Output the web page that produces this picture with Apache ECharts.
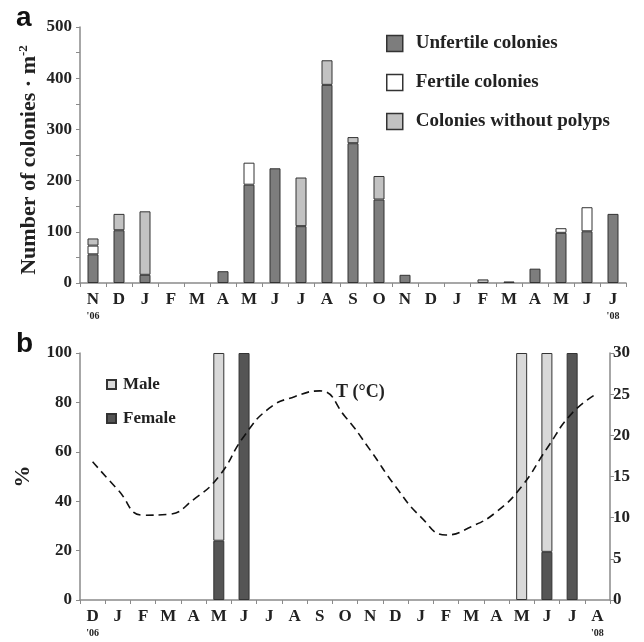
<!DOCTYPE html>
<html>
<head>
<meta charset="utf-8">
<script src="https://cdn.jsdelivr.net/npm/echarts@6/dist/echarts.min.js"></script>
<style>
  html, body { margin: 0; padding: 0; background: #fff; }
  #chart { width: 644px; height: 642px; }
</style>
</head>
<body>
<div id="chart"></div>
<script>
// panel a: colonies per month, Nov '06 - Jul '08
const topMonths = ['N', 'D', 'J', 'F', 'M', 'A', 'M', 'J', 'J', 'A', 'S', 'O', 'N', 'D', 'J', 'F', 'M', 'A', 'M', 'J', 'J'];
const unfertile = [56, 103, 16, null, null, 23, 192, 224, 111, 387, 273, 163, 16, null, null, null, 3, 28, 98, 101, 135];
const fertile = [17, null, null, null, null, null, 43, null, null, null, null, null, null, null, null, null, null, null, 9, 47, null];
const withoutPolyps = [14, 32, 124, null, null, null, null, null, 95, 48, 12, 46, null, null, null, 7, null, null, null, null, null];

// panel b: sex ratio and temperature, Dec '06 - Aug '08
const bottomMonths = ['D', 'J', 'F', 'M', 'A', 'M', 'J', 'J', 'A', 'S', 'O', 'N', 'D', 'J', 'F', 'M', 'A', 'M', 'J', 'J', 'A'];
const female = [null, null, null, null, null, 24, 100, null, null, null, null, null, null, null, null, null, null, null, 19.5, 100, null];
const male = [null, null, null, null, null, 76, null, null, null, null, null, null, null, null, null, null, null, 100, 80.5, null, null];
const temperature = [16.8, 13.4, 10.3, 10.4, 12.2, 15.0, 19.9, 23.3, 24.7, 25.4, 22.3, 18.2, 13.8, 10.1, 7.9, 8.9, 10.7, 13.8, 18.4, 22.7, 25.1];

const serif = 'Liberation Serif';
const axisGray = '#8a8a8a';
const border = '#333';

const yearLabel = (first, last) => (value, index) => {
  if (index === 0) return value + '\n{yr|' + first + '}';
  if (index === 20) return value + '\n{yr|' + last + '}';
  return value;
};

const catLabel = (first, last) => ({
  interval: 0,
  color: '#222',
  fontFamily: serif,
  fontWeight: 'bold',
  fontSize: 17,
  margin: 8,
  lineHeight: 18,
  formatter: yearLabel(first, last),
  rich: { yr: { fontSize: 10, fontFamily: serif, fontWeight: 'bold', color: '#222', lineHeight: 14, padding: [1, 0, 0, 0] } }
});

const valLabel = {
  color: '#222',
  fontFamily: serif,
  fontWeight: 'bold',
  fontSize: 17
};

const chart = echarts.init(document.getElementById('chart'));

const option = {
  backgroundColor: '#fff',
  animation: false,
  graphic: [
    { type: 'text', left: 16, top: 4, style: { text: 'a', font: 'bold 28px "Liberation Sans"', fill: '#111' } },
    { type: 'text', left: 16, top: 330, style: { text: 'b', font: 'bold 28px "Liberation Sans"', fill: '#111' } },
    { type: 'text', left: 336, top: 383, style: { text: 'T (°C)', font: 'bold 18px "Liberation Serif"', fill: '#222' } },
    {
      type: 'text',
      x: 29,
      y: 160,
      rotation: Math.PI / 2,
      style: {
        text: 'Number of colonies · m{sup|-2}',
        fontFamily: serif,
        fontWeight: 'bold',
        fontSize: 22,
        fill: '#222',
        align: 'center',
        verticalAlign: 'middle',
        rich: { sup: { fontFamily: serif, fontWeight: 'bold', fontSize: 13, fill: '#222', verticalAlign: 'top', padding: [0, 0, 10, 0] } }
      }
    }
  ],
  legend: [
    {
      orient: 'vertical',
      left: 381,
      top: 29,
      itemWidth: 16,
      itemHeight: 16,
      itemGap: 20,
      icon: 'rect',
      data: ['Unfertile colonies', 'Fertile colonies', 'Colonies without polyps'],
      itemStyle: { borderWidth: 1.5 },
      textStyle: { fontFamily: serif, fontWeight: 'bold', fontSize: 19, color: '#222', padding: [0, 0, 0, 8] }
    },
    {
      orient: 'vertical',
      left: 101,
      top: 371,
      itemWidth: 9,
      itemHeight: 9,
      itemGap: 17,
      icon: 'rect',
      data: ['Male', 'Female'],
      textStyle: { fontFamily: serif, fontWeight: 'bold', fontSize: 17, color: '#222', padding: [0, 0, 0, 2] }
    }
  ],
  grid: [
    { left: 80, top: 27, width: 546, height: 256 },
    { left: 80, top: 353, width: 530, height: 247 }
  ],
  xAxis: [
    {
      type: 'category',
      gridIndex: 0,
      data: topMonths,
      axisLine: { lineStyle: { color: axisGray, width: 1.5 } },
      axisTick: { show: true, length: 4, lineStyle: { color: axisGray } },
      axisLabel: catLabel("'06", "'08")
    },
    {
      type: 'category',
      gridIndex: 1,
      data: bottomMonths,
      axisLine: { lineStyle: { color: axisGray, width: 1.5 } },
      axisTick: { show: true, length: 4, lineStyle: { color: axisGray } },
      axisLabel: catLabel("'06", "'08")
    }
  ],
  yAxis: [
    {
      type: 'value',
      gridIndex: 0,
      min: 0,
      max: 500,
      interval: 100,
      axisLine: { show: true, lineStyle: { color: axisGray, width: 1.5 } },
      axisTick: { show: true, length: 4, lineStyle: { color: axisGray } },
      minorTick: { show: true, splitNumber: 2, length: 4, lineStyle: { color: axisGray } },
      splitLine: { show: false },
      axisLabel: valLabel
    },
    {
      type: 'value',
      gridIndex: 1,
      min: 0,
      max: 100,
      interval: 20,
      name: '%',
      nameLocation: 'middle',
      nameGap: 46,
      nameTextStyle: { fontFamily: serif, fontWeight: 'bold', fontSize: 22, color: '#222' },
      axisLine: { show: true, lineStyle: { color: axisGray, width: 1.5 } },
      axisTick: { show: true, length: 4, lineStyle: { color: axisGray } },
      splitLine: { show: false },
      axisLabel: valLabel
    },
    {
      type: 'value',
      gridIndex: 1,
      position: 'right',
      min: 0,
      max: 30,
      interval: 5,
      axisLine: { show: true, lineStyle: { color: axisGray, width: 1.5 } },
      axisTick: { show: true, length: 4, lineStyle: { color: axisGray } },
      splitLine: { show: false },
      axisLabel: Object.assign({}, valLabel, { margin: 3 })
    }
  ],
  series: [
    {
      name: 'Unfertile colonies',
      type: 'bar',
      xAxisIndex: 0,
      yAxisIndex: 0,
      stack: 'colonies',
      barWidth: 11,
      data: unfertile,
      itemStyle: { color: '#7d7d7d', borderColor: border, borderWidth: 1 }
    },
    {
      name: 'Fertile colonies',
      type: 'bar',
      xAxisIndex: 0,
      yAxisIndex: 0,
      stack: 'colonies',
      barWidth: 11,
      data: fertile,
      itemStyle: { color: '#ffffff', borderColor: border, borderWidth: 1 }
    },
    {
      name: 'Colonies without polyps',
      type: 'bar',
      xAxisIndex: 0,
      yAxisIndex: 0,
      stack: 'colonies',
      barWidth: 11,
      data: withoutPolyps,
      itemStyle: { color: '#c2c2c2', borderColor: border, borderWidth: 1 }
    },
    {
      name: 'Female',
      type: 'bar',
      xAxisIndex: 1,
      yAxisIndex: 1,
      stack: 'sex',
      barWidth: 11,
      data: female,
      itemStyle: { color: '#555555', borderColor: border, borderWidth: 1 }
    },
    {
      name: 'Male',
      type: 'bar',
      xAxisIndex: 1,
      yAxisIndex: 1,
      stack: 'sex',
      barWidth: 11,
      data: male,
      itemStyle: { color: '#d9d9d9', borderColor: border, borderWidth: 1 }
    },
    {
      name: 'T (°C)',
      type: 'line',
      xAxisIndex: 1,
      yAxisIndex: 2,
      smooth: true,
      symbol: 'none',
      data: temperature,
      lineStyle: { color: '#111', width: 1.6, type: [8, 5] },
      z: 5
    }
  ]
};

chart.setOption(option);
</script>
</body>
</html>
